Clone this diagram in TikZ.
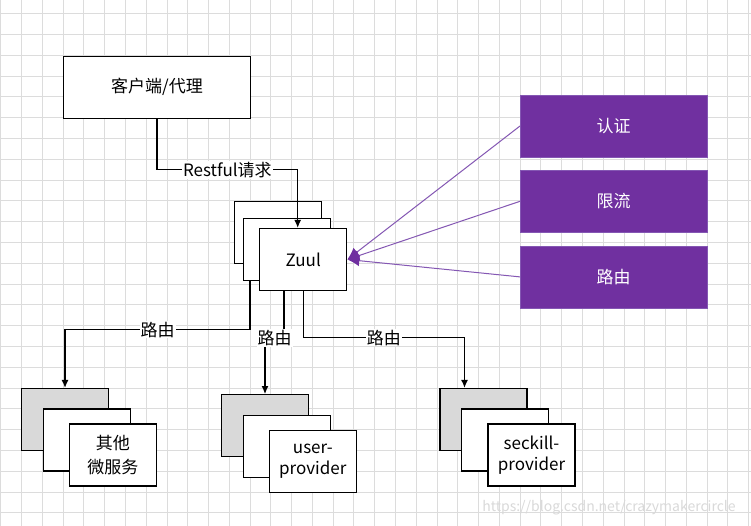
\documentclass[tikz,border=0pt]{standalone}
\usepackage{fontspec}
\setmainfont{Noto Sans CJK SC}
\usepackage{tikz}
\usetikzlibrary{arrows.meta}
\definecolor{zpurple}{HTML}{7030A0}
\definecolor{zline}{HTML}{8457B3}
\definecolor{gridgray}{HTML}{DCDCDC}
\definecolor{backgray}{HTML}{D9D9D9}
\tikzstyle{gridline} = [gridgray,line width=1pt]
\tikzstyle{arrow} = [line width=1.2pt,-{Latex[length=8pt,width=7pt]}]
\tikzstyle{parrow} = [zline,line width=1pt,-{Latex[length=12pt,width=11pt,color=zpurple]}]
\tikzstyle{box} = [draw,line width=1.3pt,fill=white,minimum width=87pt,minimum height=62pt,inner sep=0pt,align=center,font=\fontsize{17}{21}\selectfont]
\tikzstyle{backbox} = [box,fill=backgray]
\tikzstyle{pbox} = [fill=zpurple,draw=zline,minimum width=187pt,minimum height=62pt,text=white,font=\fontsize{17}{21}\selectfont]
\tikzstyle{lbl} = [fill=white,inner sep=1pt,font=\fontsize{17}{21}\selectfont]
\tikzstyle{wmark} = [text=gray!30,font=\fontsize{14}{16}\selectfont]

\begin{document}
\begin{tikzpicture}[x=1pt,y=-1pt]
\useasboundingbox (0,0) rectangle (751,526);
\fill[white] (0,0) rectangle (751,526);
\foreach \i in {0,...,36} \draw[gridline] ({0.9+20.77*\i},0) -- ({0.9+20.77*\i},526);
\foreach \j in {0,...,24} \draw[gridline] (0,{13.7+20.8*\j}) -- (751,{13.7+20.8*\j});

\node[box,minimum width=187pt] (client) at (157,87.2) {客户端/代理};

\node[box] (zback) at (278.3,232.7) {};
\node[box] (zmid) at (287.2,249.7) {};
\node[box] (zuul) at (303.2,259.5) {Zuul};

\node[pbox] (auth) at (613.7,126) {认证};
\node[pbox] (limit) at (613.7,201.3) {限流};
\node[pbox] (route) at (613.7,276.9) {路由};

\node[backbox] (back1) at (65,419.5) {};
\node[box] (mid1) at (86.7,440) {};
\node[box] (other) at (112.8,454.9) {其他\\[3pt]微服务};

\node[backbox] (back2) at (265,425.7) {};
\node[box] (mid2) at (286.9,446.5) {};
\node[box] (user) at (312.8,461.2) {user-\\provider};

\node[backbox] (back3) at (483.5,419.5) {};
\node[box] (mid3) at (505,440) {};
\node[box] (seckill) at (531.5,454.9) {seckill-\\provider};

\draw[arrow] (client.south) -- ++(0,51) -| node[lbl,pos=0.25] {Restful请求} ([xshift=-5.5pt]zuul.north);
\draw[arrow] ([xshift=7pt]zmid.south west) -- ++(0,48.3) -| node[lbl,pos=0.25] {路由} (back1.north);
\draw[arrow] ([xshift=25pt]zuul.south west) -- ++(0,47) -| node[lbl,pos=0.25] {路由} (back2.north);
\draw[arrow] (zuul.south) -- ++(0,46.5) -| node[lbl,pos=0.25] {路由} ([xshift=-19pt]back3.north);

\draw[parrow] (auth.west) -- (zuul.east);
\draw[parrow] (limit.west) -- (zuul.east);
\draw[parrow] (route.west) -- (zuul.east);

\node[wmark] (wm) at (609,508) {https://blog.csdn.net/crazymakercircle};
\end{tikzpicture}
\end{document}
